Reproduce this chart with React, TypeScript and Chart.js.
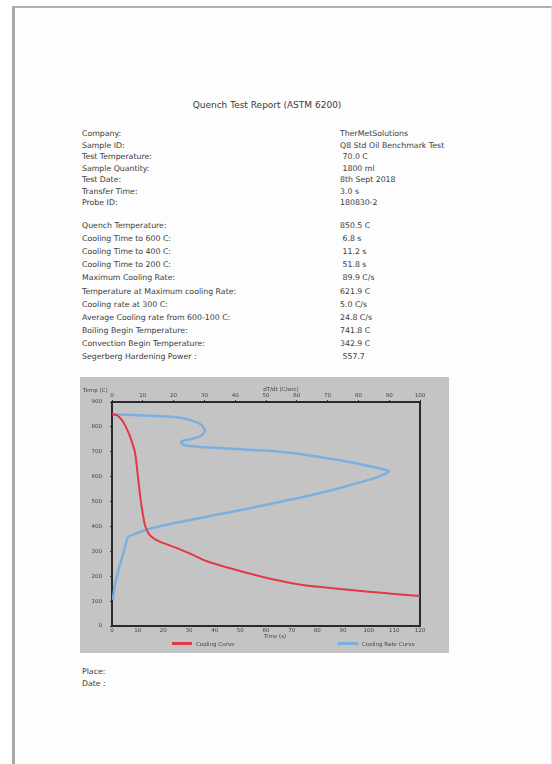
import React, { useEffect, useRef } from "react";
import { Chart, registerables } from "chart.js";

Chart.register(...registerables);

// ---- Report fields ----
const infoLabels1 = ["Company:", "Sample ID:", "Test Temperature:", "Sample Quantity:", "Test Date:", "Transfer Time:", "Probe ID:"];
const infoValues1 = ["TherMetSolutions", "Q8 Std Oil Benchmark Test", " 70.0 C", " 1800 ml", "8th Sept 2018", "3.0 s", "180830-2"];
const infoLabels2 = [
  "Quench Temperature:",
  "Cooling Time to 600 C:",
  "Cooling Time to 400 C:",
  "Cooling Time to 200 C:",
  "Maximum Cooling Rate:",
  "Temperature at Maximum cooling Rate:",
  "Cooling rate at 300 C:",
  "Average Cooling rate from 600-100 C:",
  "Boiling Begin Temperature:",
  "Convection Begin Temperature:",
  "Segerberg Hardening Power :",
];
const infoValues2 = ["850.5 C", " 6.8 s", " 11.2 s", " 51.8 s", " 89.9 C/s", "621.9 C", "5.0 C/s", "24.8 C/s", "741.8 C", "342.9 C", " 557.7"];

// ---- Cooling curve: time (s) vs temperature (C) ----
const coolTime = [0, 2, 3.5, 5, 6.5, 7.8, 9, 10, 11, 12, 13, 14.5, 16.5, 19, 24, 30, 37, 45, 52, 63, 75, 88, 100, 110, 120];
const coolTemp = [851, 846, 832, 808, 775, 739, 695, 610, 520, 450, 400, 368, 350, 337, 318, 293, 260, 235, 215, 187, 164, 150, 138, 129, 121];

// ---- Cooling rate curve: rate (C/s) vs temperature (C) ----
const rateVal = [0.3, 10, 18, 22, 26, 29, 30.2, 29, 26, 22.5, 23, 26, 33, 42, 52, 62, 72, 80, 85, 88.5, 89.9, 88.5, 85, 79, 72, 62, 52, 42, 31, 20, 12, 8, 5.2, 4.5, 3.5, 2.3, 1, 0.3];
const rateTemp = [851, 846, 842, 837, 825, 808, 785, 765, 752, 742, 730, 722, 716, 710, 703, 689, 670, 652, 638, 628, 621.9, 610, 593, 572, 548, 518, 492, 466, 440, 413, 390, 372, 357, 330, 285, 235, 170, 105];

const FONT = "'DejaVu Sans', Verdana, sans-serif";
const TEXT = "#3a3a3a";

function ReportChart() {
  const ref = useRef<HTMLCanvasElement | null>(null);
  useEffect(() => {
    if (!ref.current) return;
    const tickFont = { family: FONT, size: 5.5 };
    const chart = new Chart(ref.current, {
      type: "scatter",
      data: {
        datasets: [
          {
            label: "Cooling Curve",
            data: coolTime.map((t, i) => ({ x: t, y: coolTemp[i] })),
            xAxisID: "x",
            yAxisID: "y",
            showLine: true,
            borderColor: "#e23a44",
            borderWidth: 2,
            pointRadius: 0,
            tension: 0.25,
          },
          {
            label: "Cooling Rate Curve",
            data: rateVal.map((r, i) => ({ x: r, y: rateTemp[i] })),
            xAxisID: "x2",
            yAxisID: "y",
            showLine: true,
            borderColor: "#7bafe0",
            borderWidth: 2.5,
            pointRadius: 0,
            tension: 0.25,
          },
        ],
      },
      options: {
        animation: false,
        responsive: false,
        devicePixelRatio: 1,
        layout: { padding: 0 },
        plugins: { legend: { display: false }, tooltip: { enabled: false }, title: { display: false } },
        scales: {
          x: {
            type: "linear",
            position: "bottom",
            min: 0,
            max: 120,
            ticks: { stepSize: 10, font: tickFont, color: "#444", padding: 0, maxRotation: 0 },
            grid: { display: true, drawOnChartArea: false, tickLength: 1, color: "#333" },
            border: { color: "#2a2a2a", width: 2 },
            afterFit: (s: any) => { s.height = 27; },
          },
          x2: {
            type: "linear",
            position: "top",
            min: 0,
            max: 100,
            ticks: { stepSize: 10, font: tickFont, color: "#444", padding: 1, maxRotation: 0 },
            grid: { display: true, drawOnChartArea: false, tickLength: 2, color: "#333" },
            border: { color: "#2a2a2a", width: 2 },
            afterFit: (s: any) => { s.height = 25; },
          },
          y: {
            type: "linear",
            position: "left",
            min: 0,
            max: 900,
            ticks: { stepSize: 100, font: tickFont, color: "#444", padding: 8 },
            grid: { display: true, drawOnChartArea: false, tickLength: 2, color: "#333" },
            border: { color: "#2a2a2a", width: 2 },
            afterFit: (s: any) => { s.width = 32; },
          },
          y2: {
            type: "linear",
            position: "right",
            min: 0,
            max: 900,
            ticks: { display: false },
            grid: { display: false },
            border: { display: true, color: "#2a2a2a", width: 2 },
            afterFit: (s: any) => { s.width = 29; },
          },
        },
      },
    });
    return () => chart.destroy();
  }, []);
  return (
    <canvas
      ref={ref}
      width={369}
      height={276}
      style={{ position: "absolute", left: 80, top: 377, width: 369, height: 276, background: "#c4c4c4" }}
    />
  );
}

function T({ x, y, children, size = 7.8, color = TEXT, center = false }: any) {
  return (
    <div
      style={{
        position: "absolute",
        left: center ? x - 200 : x,
        width: center ? 400 : undefined,
        textAlign: center ? "center" : "left",
        top: y - 6,
        lineHeight: "12px",
        fontSize: size,
        color,
        whiteSpace: "pre",
        fontFamily: FONT,
      }}
    >
      {children}
    </div>
  );
}

export default function App() {
  const y1 = 134;
  const s1 = 11.5;
  const y2 = 226;
  const s2 = 13.1;
  return (
    <div style={{ position: "absolute", left: 0, top: 0, width: 552, height: 764, background: "#ffffff", overflow: "hidden" }}>
      {/* page frame */}
      <div style={{ position: "absolute", left: 12, top: 6, width: 536, height: 800, borderLeft: "3px solid #a8a8a8", borderTop: "2px solid #b0b0b0", borderRight: "1px solid #e4e4e4", background: "#fdfdfd" }} />

      <T x={267} y={105} size={9} center>Quench Test Report (ASTM 6200)</T>

      {infoLabels1.map((l, i) => (
        <T key={"l1" + i} x={82} y={y1 + i * s1}>{l}</T>
      ))}
      {infoValues1.map((v, i) => (
        <T key={"v1" + i} x={340} y={y1 + i * s1}>{v}</T>
      ))}
      {infoLabels2.map((l, i) => (
        <T key={"l2" + i} x={82} y={y2 + i * s2}>{l}</T>
      ))}
      {infoValues2.map((v, i) => (
        <T key={"v2" + i} x={340} y={y2 + i * s2}>{v}</T>
      ))}

      <ReportChart />

      {/* axis titles */}
      <T x={83} y={390} size={5.5} color="#444">Temp (C)</T>
      <T x={281} y={389} size={5.5} color="#444" center>dT/dt (C/sec)</T>
      <T x={275} y={636} size={5.5} color="#444" center>Time (s)</T>

      {/* legend */}
      <div style={{ position: "absolute", left: 172, top: 642, width: 20, height: 3, background: "#e23a44" }} />
      <T x={196} y={643.5} size={5.5} color="#444">Cooling Curve</T>
      <div style={{ position: "absolute", left: 338, top: 642, width: 20, height: 3, background: "#7bafe0" }} />
      <T x={362} y={643.5} size={5.5} color="#444">Cooling Rate Curve</T>

      <T x={82} y={672}>Place:</T>
      <T x={82} y={684}>Date :</T>
    </div>
  );
}
